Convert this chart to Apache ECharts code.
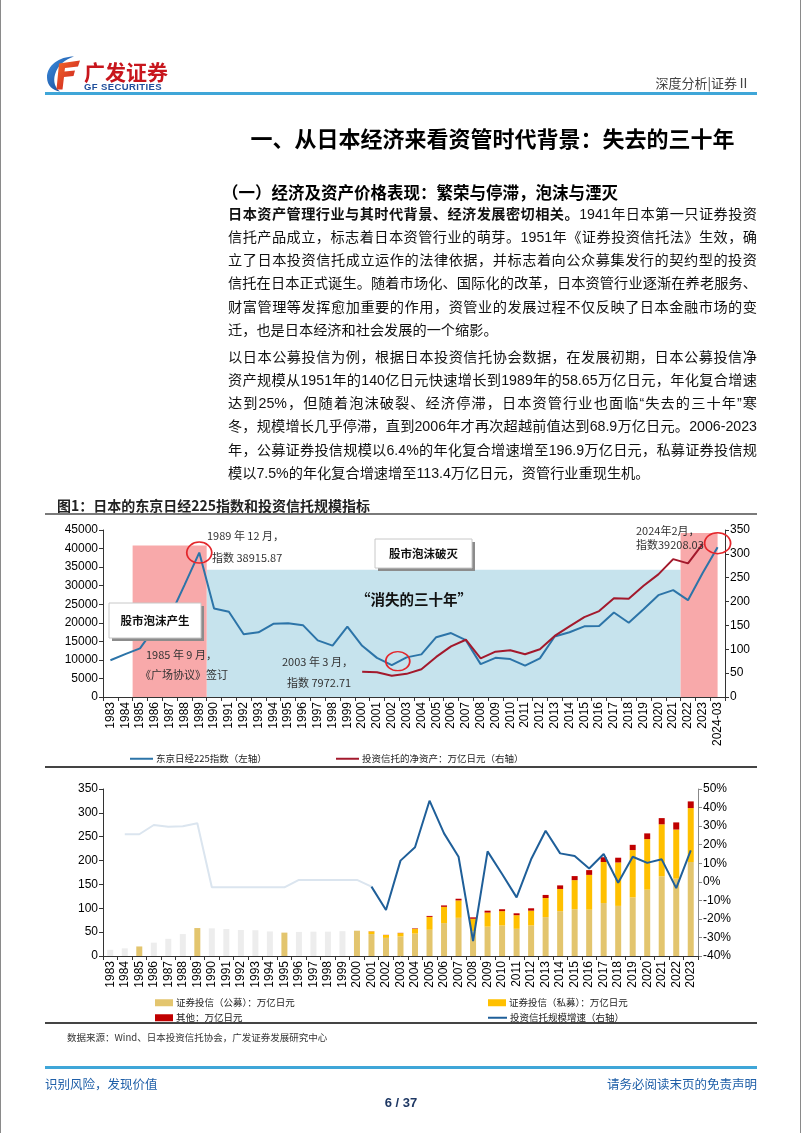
<!DOCTYPE html>
<html><head><meta charset="utf-8">
<script src="https://cdn.jsdelivr.net/npm/echarts@6/dist/echarts.min.js"></script>
<style>
html,body{margin:0;padding:0;background:#fff;}
#page{position:relative;width:802px;height:1133px;overflow:hidden;background:#fff;font-family:"Liberation Sans","Noto Sans CJK SC",sans-serif;color:#111;}
#chart{position:absolute;left:0;top:0;width:802px;height:1133px;z-index:1;}
.t{position:absolute;z-index:2;white-space:nowrap;}
.hl{position:absolute;z-index:2;}
.para{position:absolute;left:228px;width:529px;font-size:14.2px;z-index:2;}
.para div{text-align:justify;text-align-last:justify;height:23.3px;line-height:23.3px;}
.para div.last{text-align-last:left;}
</style></head>
<body><div id="page">
<div class="hl" style="left:0;top:0;width:1px;height:1133px;background:#8a8a8a"></div>
<div class="hl" style="left:800px;top:0;width:1px;height:1133px;background:#8a8a8a"></div>

<svg class="hl" style="left:44px;top:54px" width="40" height="39" viewBox="0 0 40 38">
  <defs><linearGradient id="gb" x1="0" y1="0" x2="1" y2="1"><stop offset="0" stop-color="#3d8fe0"/><stop offset="1" stop-color="#123f8c"/></linearGradient>
  <linearGradient id="gr" x1="0" y1="0" x2="1" y2="1"><stop offset="0" stop-color="#f26a2a"/><stop offset="1" stop-color="#c8161d"/></linearGradient></defs>
  <path d="M30,2 C15,2 3,11 3,23 C3,31 9,36 16,37 C11,33 9,27 11,20 C14,10 21,5 30,2 Z" fill="url(#gb)"/>
  <path d="M15,9 L36,6 L34,12 L21,13.5 L20.5,17 L31,16 L29.5,21.5 L20,22.5 L18.5,35 L12.5,35 Z" fill="url(#gr)"/>
</svg>
<div class="t" style="left:84px;top:56px;font-size:21px;font-weight:bold;color:#c8161d;font-family:'Noto Sans CJK SC'">广发证券</div>
<div class="t" style="left:84px;top:81px;font-size:9.5px;font-weight:bold;color:#1f4e9a;letter-spacing:0.4px">GF SECURITIES</div>
<div class="t" style="right:52px;top:73px;font-size:13px;color:#444;font-family:'Noto Sans CJK SC'">深度分析|证券Ⅱ</div>
<div class="hl" style="left:45px;top:92px;width:712px;height:2.5px;background:#3fa6d8"></div>

<div class="t" style="left:228px;width:529px;top:121px;text-align:center;font-size:22px;font-weight:bold;line-height:32px;font-family:'Noto Sans CJK SC';color:#000">一、从日本经济来看资管时代背景：失去的三十年</div>
<div class="t" style="left:222px;top:180px;font-size:16.5px;font-weight:bold;line-height:24px;font-family:'Noto Sans CJK SC';color:#000">（一）经济及资产价格表现：繁荣与停滞，泡沫与湮灭</div>

<div class="para" style="top:202.5px">
<div><b>日本资产管理行业与其时代背景、经济发展密切相关。</b>1941年日本第一只证券投资</div>
<div>信托产品成立，标志着日本资管行业的萌芽。1951年《证券投资信托法》生效，确</div>
<div>立了日本投资信托成立运作的法律依据，并标志着向公众募集发行的契约型的投资</div>
<div>信托在日本正式诞生。随着市场化、国际化的改革，日本资管行业逐渐在养老服务、</div>
<div>财富管理等发挥愈加重要的作用，资管业的发展过程不仅反映了日本金融市场的变</div>
<div class="last">迁，也是日本经济和社会发展的一个缩影。</div>
</div>
<div class="para" style="top:345.5px">
<div>以日本公募投信为例，根据日本投资信托协会数据，在发展初期，日本公募投信净</div>
<div>资产规模从1951年的140亿日元快速增长到1989年的58.65万亿日元，年化复合增速</div>
<div>达到25%，但随着泡沫破裂、经济停滞，日本资管行业也面临“失去的三十年”寒</div>
<div>冬，规模增长几乎停滞，直到2006年才再次超越前值达到68.9万亿日元。2006-2023</div>
<div>年，公募证券投信规模以6.4%的年化复合增速增至196.9万亿日元，私募证券投信规</div>
<div class="last">模以7.5%的年化复合增速增至113.4万亿日元，资管行业重现生机。</div>
</div>

<div class="t" style="left:57px;top:495px;font-size:14px;font-weight:bold;color:#222;font-family:'Noto Sans CJK SC'">图1：日本的东京日经225指数和投资信托规模指标</div>
<div class="hl" style="left:45px;top:513px;width:712px;height:1.5px;background:#7a7a7a"></div>
<div class="hl" style="left:45px;top:766px;width:712px;height:1.5px;background:#444"></div>
<div class="hl" style="left:45px;top:1022px;width:712px;height:1.5px;background:#444"></div>
<div class="t" style="left:67px;top:1030px;font-size:9.5px;color:#333;font-family:'Noto Sans CJK SC'">数据来源：Wind、日本投资信托协会，广发证券发展研究中心</div>
<div class="hl" style="left:45px;top:1066px;width:712px;height:2.5px;background:#3fa6d8"></div>
<div class="t" style="left:45px;top:1074px;font-size:12.5px;color:#1f5fa8;font-family:'Noto Sans CJK SC'">识别风险，发现价值</div>
<div class="t" style="right:45px;top:1074px;font-size:12.5px;color:#1f5fa8;font-family:'Noto Sans CJK SC'">请务必阅读末页的免责声明</div>
<div class="t" style="left:371px;width:60px;top:1095px;text-align:center;font-size:13px;font-weight:bold;color:#1f3864">6 / 37</div>

<div id="chart"></div>
</div>
<script>
// ---------- data ----------
const years1 = ['1983','1984','1985','1986','1987','1988','1989','1990','1991','1992','1993','1994','1995','1996','1997','1998','1999','2000','2001','2002','2003','2004','2005','2006','2007','2008','2009','2010','2011','2012','2013','2014','2015','2016','2017','2018','2019','2020','2021','2022','2023','2024-03'];
const nikkei = [9894,11543,13113,18701,21564,30159,38916,23849,22984,16925,17417,19723,19868,19361,15259,13842,18934,13786,10543,8579,10677,11489,16111,17226,15308,8860,10546,10229,8455,10395,16291,17451,19034,19114,22765,20015,23657,27444,28792,26095,33464,40369];
const trustNav = [null,null,null,null,null,null,null,null,null,null,null,null,null,null,null,null,null,53,52,44.5,48.5,58,84,106,120,81,95,98,89.5,100,128,148,167.5,180,207,206,233,257,289,280,321,null];

const years2 = ['1983','1984','1985','1986','1987','1988','1989','1990','1991','1992','1993','1994','1995','1996','1997','1998','1999','2000','2001','2002','2003','2004','2005','2006','2007','2008','2009','2010','2011','2012','2013','2014','2015','2016','2017','2018','2019','2020','2021','2022','2023'];
const publicFund = [13,16,20,28,36,46,58.6,58,56.5,54.5,54,51.5,49,50.5,51,51,52,53,46,38,41,47,55,69,80,52,61.5,64,57,64,81.5,94,98,97,111,105,123,139,167,162,197];
const privateFund = [0,0,0,0,0,0,0,0,0,0,0,0,0,0,0,0,0,0,5.5,6,7,10,27,34,36.5,26,29.5,30,28.5,31,40,46.5,61,73,86,91,99,106,109,103,113];
const otherFund = [0,0,0,0,0,0,0,0,0,0,0,0,0,0,0,0,0,0,0.3,0.3,0.5,1,2,3,3.5,3,4,4,4,5,6.5,7.5,8.5,10,10,10,11,12,13,15,14];
const growthRate = [null,25.6,25.6,30.6,29.7,29.9,31.5,-3,-3,-3,-3,-3,-3,1,1,1,1,1,-2.6,-15.2,11.4,18.6,43.7,26.1,13.5,-31.9,16.4,4.2,-8.4,12.1,27.5,15.3,13.9,7.2,15,-0.5,13.5,10.2,12.1,-3.4,16.9];
const fadedYears = ['1983','1984','1986','1987','1988','1990','1991','1992','1993','1994','1996','1997','1998','1999'];
const fadedLineEnd = '2001';

// ---------- chart ----------
const FONT = '"Liberation Sans", Arial, sans-serif';
const CJK = '"Noto Sans CJK SC", sans-serif';
const axisCol = '#333';
const chart = echarts.init(document.getElementById('chart'), null, {renderer:'canvas'});

const endIdx = years2.indexOf(fadedLineEnd);
const growthFaded = growthRate.map((v,i)=> i<=endIdx ? v : null);
const growthMain = growthRate.map((v,i)=> i>=endIdx ? v : null);
const publicData = publicFund.map((v,i)=> fadedYears.includes(years2[i]) ? {value:v, itemStyle:{color:'#ededed'}} : v);

function catAxis(data, grid){
  return {type:'category', gridIndex:grid, data:data, boundaryGap:true,
    axisLine:{lineStyle:{color:axisCol,width:1}},
    axisTick:{show:true, interval:0, length:4, lineStyle:{color:axisCol}},
    axisLabel:{interval:0, rotate:90, fontSize:12, color:'#000', fontFamily:FONT, margin:5}};
}
function valAxis(grid, pos, min, max, step, suffix, lineCol){
  return {type:'value', gridIndex:grid, position:pos, min:min, max:max, interval:step,
    axisLine:{show:true, lineStyle:{color:lineCol||axisCol}},
    axisTick:{show:true, length:4, lineStyle:{color:lineCol||axisCol}},
    splitLine:{show:false},
    axisLabel:{fontSize:12, color:'#000', fontFamily:FONT, margin:5, formatter:(v)=>String(v)+(suffix||'')}};
}

const txt = (x,y,s,size,opt)=>({type:'text', x:x, y:y, z:100, silent:true,
   style:{text:s, fill:(opt&&opt.bold)?'#111':'#333', font:(opt&&opt.bold?'bold ':'')+size+'px '+CJK, textVerticalAlign:'middle', textAlign:(opt&&opt.align)||'left'}});
function box(x,y,w,h,s){
  return {type:'group', z:100, silent:true, children:[
    {type:'rect', z:100, shape:{x:x+3,y:y+3,width:w,height:h}, style:{fill:'#8c8c8c'}},
    {type:'rect', z:101, shape:{x:x,y:y,width:w,height:h}, style:{fill:'#fff', stroke:'#c8c8c8', lineWidth:1}},
    {type:'text', z:102, x:x+w/2, y:y+h/2, style:{text:s, fill:'#111', font:'bold 11.5px '+CJK, textAlign:'center', textVerticalAlign:'middle'}}
  ]};
}

const ring = {color:'transparent', borderColor:'#e3262b', borderWidth:1.6};
const legTxt = {fontSize:9.5, color:'#222', fontFamily:CJK, padding:[0,0,0,-2]};

const option = {
  animation:false,
  grid:[{left:103, top:530, width:622, height:167}, {left:103, top:789, width:595, height:167}],
  xAxis:[catAxis(years1,0), {type:'value', gridIndex:0, min:0, max:42, show:false}, catAxis(years2,1)],
  yAxis:[valAxis(0,'left',0,45000,5000), valAxis(0,'right',0,350,50), valAxis(1,'left',0,350,50), valAxis(1,'right',-40,50,10,'%','#888')],
  legend:[
    {data:['东京日经225指数（左轴）'], left:125, top:749, icon:'rect', itemWidth:23, itemHeight:2, selectedMode:false, textStyle:legTxt},
    {data:['投资信托的净资产：万亿日元（右轴）'], left:331, top:749, icon:'rect', itemWidth:23, itemHeight:2, selectedMode:false, textStyle:legTxt},
    {data:['证券投信（公募）：万亿日元'], left:150, top:993, icon:'rect', itemWidth:18, itemHeight:7, selectedMode:false, textStyle:legTxt},
    {data:['证券投信（私募）：万亿日元'], left:483, top:993, icon:'rect', itemWidth:18, itemHeight:7, selectedMode:false, textStyle:legTxt},
    {data:['其他：万亿日元'], left:150, top:1008, icon:'rect', itemWidth:18, itemHeight:7, selectedMode:false, textStyle:legTxt},
    {data:['投资信托规模增速（右轴）'], left:483, top:1008, icon:'rect', itemWidth:19, itemHeight:2, selectedMode:false, textStyle:legTxt}
  ],
  series:[
    {name:'bgBlue', type:'line', xAxisIndex:1, yAxisIndex:0, data:[[0,0]], symbol:'none', lineStyle:{opacity:0}, z:0, silent:true,
     markArea:{silent:true, itemStyle:{color:'#c6e3ed'}, data:[[{coord:[7,34300]},{coord:[39,0]}]]}},
    {name:'bgPink', type:'line', xAxisIndex:1, yAxisIndex:0, data:[[0,0]], symbol:'none', lineStyle:{opacity:0}, z:0, silent:true,
     markArea:{silent:true, itemStyle:{color:'#f8a9aa'}, data:[[{coord:[2,40800]},{coord:[7,0]}],[{coord:[39,44200]},{coord:[41.5,0]}]]}},
    {name:'东京日经225指数（左轴）', type:'line', xAxisIndex:0, yAxisIndex:0, data:nikkei, symbol:'none', z:3,
     lineStyle:{color:'#2c74a8', width:2}, itemStyle:{color:'#2c74a8'},
     markPoint:{silent:true, symbol:'circle', label:{show:false}, itemStyle:ring, data:[
        {coord:['1989',38915.87], symbolSize:[25,21]},
        {coord:['2002',8579], symbolSize:[24,19], symbolOffset:[6,-4]},
        {coord:['2024-03',40369], symbolSize:[26,21], symbolOffset:[0,-4]}]}},
    {name:'投资信托的净资产：万亿日元（右轴）', type:'line', xAxisIndex:0, yAxisIndex:1, data:trustNav, symbol:'none', z:4,
     lineStyle:{color:'#a3192c', width:2}, itemStyle:{color:'#a3192c'}},
    {name:'证券投信（公募）：万亿日元', type:'bar', xAxisIndex:2, yAxisIndex:2, stack:'fund', data:publicData, barWidth:6, itemStyle:{color:'#e3c56e'}, z:2},
    {name:'证券投信（私募）：万亿日元', type:'bar', xAxisIndex:2, yAxisIndex:2, stack:'fund', data:privateFund, barWidth:6, itemStyle:{color:'#ffc000'}, z:2},
    {name:'其他：万亿日元', type:'bar', xAxisIndex:2, yAxisIndex:2, stack:'fund', data:otherFund, barWidth:6, itemStyle:{color:'#c00000'}, z:2},
    {name:'growthFaded', type:'line', xAxisIndex:2, yAxisIndex:3, data:growthFaded, symbol:'none', z:3, lineStyle:{color:'#dbe5ef', width:2}},
    {name:'投资信托规模增速（右轴）', type:'line', xAxisIndex:2, yAxisIndex:3, data:growthMain, symbol:'none', z:4, lineStyle:{color:'#1f5f99', width:2}, itemStyle:{color:'#1f5f99'}}
  ],
  graphic:{elements:[
    txt(207,536,'1989 年 12 月，',11),
    txt(212,557.5,'指数 38915.87',11),
    box(109,603,92,35,'股市泡沫产生'),
    txt(146,655,'1985 年 9 月，',11),
    txt(140,675,'《广场协议》签订',11),
    txt(282,662,'2003 年 3 月，',11),
    txt(287,683,'指数 7972.71',11),
    box(375,539,97,29,'股市泡沫破灭'),
    txt(414,599,'“消失的三十年”',14.5,{bold:true, align:'center'}),
    txt(636,531,'2024年2月，',11),
    txt(636,544.5,'指数39208.03',11)
  ]}
};
chart.setOption(option);
</script>
</body></html>
